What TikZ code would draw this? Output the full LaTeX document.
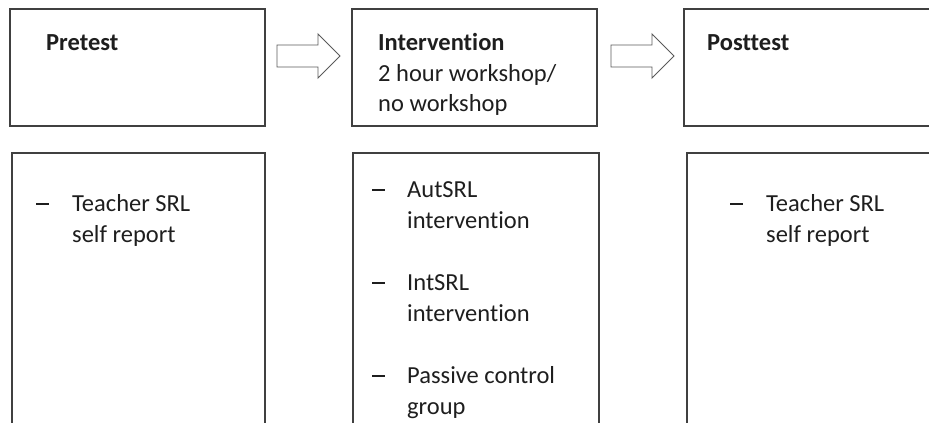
\documentclass[tikz,border=0pt]{standalone}
\usepackage{fontspec}
\setmainfont{Carlito}[Ligatures=NoCommon]
\usepackage{xcolor}
\definecolor{frame}{HTML}{404040}
\definecolor{ink}{HTML}{1E1E1E}
\definecolor{arrowgray}{HTML}{5A5A5A}
\newcommand{\listdash}{\textcolor{ink}{\rule[6.3pt]{13pt}{1.4pt}}}

\begin{document}
\begin{tikzpicture}[x=1pt,y=-1pt,
 box/.style={draw=frame,line width=1.1pt,inner sep=0pt,outer sep=0pt,anchor=north west},
 txt/.style={anchor=base west,inner sep=0pt,text=ink,font=\fontsize{24.5}{31}\selectfont},
 head/.style={txt,font=\fontsize{24.5}{31}\selectfont\bfseries},
 shaft/.style={draw=arrowgray,line width=0.9pt,line join=miter}]
 \useasboundingbox (0,0) rectangle (929,423);
 \clip (0,0) rectangle (929,423);
 % top row
 \node[box,minimum width=255pt,minimum height=117pt] (pre) at (10,9) {};
 \node[box,minimum width=245pt,minimum height=117pt] (int) at (352,9) {};
 \node[box,minimum width=300pt,minimum height=117pt] (post) at (684,9) {};
 % bottom row, cut off by the page
 \node[box,minimum width=253pt,minimum height=300pt] (prelist) at (12,153) {};
 \node[box,minimum width=246pt,minimum height=300pt] (intlist) at (353,153) {};
 \node[box,minimum width=300pt,minimum height=300pt] (postlist) at (687,153) {};
 % block arrows
 \coordinate (arr1) at (277,45);
 \coordinate (arr2) at (611,45);
 \foreach \a in {arr1,arr2}{
   \draw[shaft] (\a) -- ++(41,0) -- ++(0,-11) -- ++(22,22) -- ++(-22,22)
     -- ++(0,-11) -- ++(-41,0) -- cycle;
 }
 % headings
 \node[head] (pretitle) at (46,50) {Pretest};
 \node[head] (inttitle) at (378,50) {Intervention};
 \node[txt] (intline1) at (378,81) {2 hour workshop/};
 \node[txt] (intline2) at (378,111) {no workshop};
 \node[head] (posttitle) at (707,50) {Posttest};
 % lists
 \node[txt] (predash) at (36,211) {\listdash};
 \node[txt] (preitem1) at (72,211) {Teacher SRL};
 \node[txt] (preitem2) at (72,242) {self report};
 \foreach \i/\first/\second in {1/AutSRL/intervention,2/IntSRL/intervention,3/Passive control/group}{
   \node[txt] (intdash\i) at (372,104+93*\i) {\listdash};
   \node[txt] (intitem\i) at (407,104+93*\i) {\first};
   \node[txt] (intmore\i) at (407,135+93*\i) {\second};
 }
 \node[txt] (postdash) at (730,211) {\listdash};
 \node[txt] (postitem1) at (766,211) {Teacher SRL};
 \node[txt] (postitem2) at (766,242) {self report};
\end{tikzpicture}
\end{document}
